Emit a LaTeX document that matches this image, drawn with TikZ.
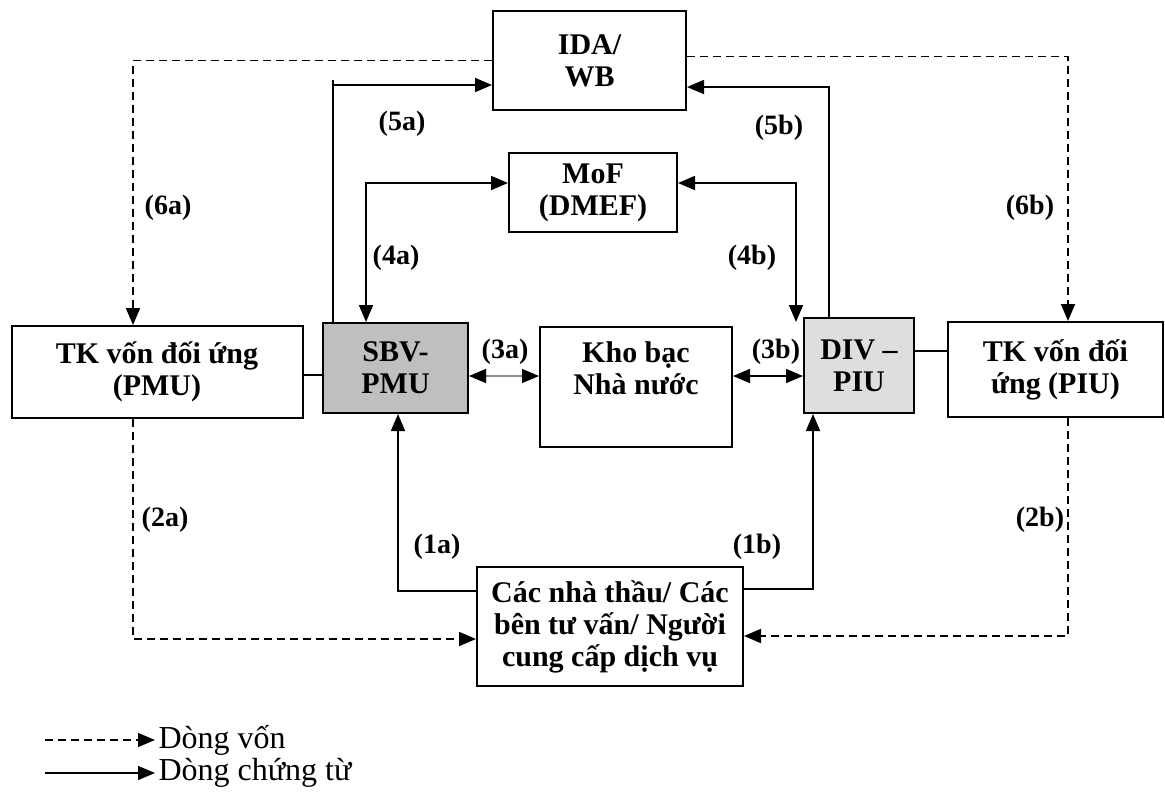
\documentclass[tikz,border=0pt]{standalone}
\usepackage{fontspec}
\setmainfont{Liberation Serif}
\usetikzlibrary{arrows.meta,calc}
\tikzset{
  box/.style={draw,line width=2pt,align=center,inner sep=2pt,
    font=\fontsize{30}{32}\selectfont\bfseries},
  lbl/.style={font=\fontsize{28}{30}\selectfont\bfseries},
  tip/.style={Triangle[length=17pt,width=14pt,color=black]},
  doc/.style={line width=1.8pt,-{Triangle[length=17pt,width=14pt]}},
  both/.style={line width=1.8pt,{Triangle[length=17pt,width=14pt,color=black]}-{Triangle[length=17pt,width=14pt,color=black]}},
  fund/.style={line width=1.8pt,dash pattern=on 8pt off 5pt,
    -{Triangle[length=17pt,width=14pt]}},
}
\begin{document}
\begin{tikzpicture}[x=1pt,y=-1pt]
  \useasboundingbox (0,0) rectangle (1165,793);
  % Boxes
  \node[box,minimum width=193pt,minimum height=99pt] (ida) at (589.5,60.5) {IDA/\\WB};
  \node[box,minimum width=168pt,minimum height=79pt] (mof) at (593,192.5) {MoF\\(DMEF)};
  \node[box,minimum width=291pt,minimum height=92pt] (tkpmu) at (157,372) {TK vốn đối ứng\\(PMU)};
  \node[box,fill=black!25,minimum width=145pt,minimum height=90pt] (sbv) at (395.5,368) {SBV-\\PMU};
  \node[box,minimum width=192pt,minimum height=120pt] (kho) at (636,387) {};
  \node[box,draw=none] (khotxt) at (636,368) {Kho bạc\\Nhà nước};
  \node[box,fill=black!13,minimum width=110pt,minimum height=95pt] (div) at (859,365.5) {DIV --\\PIU};
  \node[box,minimum width=215pt,minimum height=95pt] (tkpiu) at (1055.5,369.5) {TK vốn đối\\ứng (PIU)};
  \node[box,minimum width=266pt,minimum height=119pt] (thau) at (610,626.5) {Các nhà thầu/ Các\\bên tư vấn/ Người\\cung cấp dịch vụ};
  % Fund flows (dashed)
  \draw[fund] (ida.west) -| (tkpmu.north -| 133,0);
  \draw[fund] ($(ida.east)+(0,-4)$) -| (tkpiu.north -| 1068,0);
  \draw[fund] (tkpmu.south -| 133,0) |- (thau.west |- 0,639);
  \draw[fund] (tkpiu.south -| 1068,0) |- (thau.east |- 0,636);
  % Document flows
  \draw[line width=1.8pt] (sbv.north -| 333,0) -- (333,80);
  \draw[doc] (333,85) -- ($(ida.west)+(0,24.5)$);
  \draw[doc] (div.north -| 829,0) |- ($(ida.east)+(0,26.5)$);
  \draw[both] (sbv.north -| 366,0) |- ($(mof.west)+(0,-9.5)$);
  \draw[both] ($(mof.east)+(0,-9.5)$) -| ($(div.north west)+(-7,5)$);
  \draw[both,draw=black!45,line width=1.2pt] (sbv.east |- 0,376) -- (kho.west |- 0,376);
  \draw[both] (kho.east |- 0,376) -- (div.west |- 0,376);
  \draw[line width=1.8pt] (tkpmu.east |- 0,375) -- (sbv.west |- 0,375);
  \draw[line width=1.8pt] (div.east |- 0,351) -- (tkpiu.west |- 0,351);
  \draw[doc] (thau.west |- 0,591) -| (sbv.south -| 398,0);
  \draw[doc] (thau.east |- 0,589) -| (div.south -| 813,0);
  % Labels
  \node[lbl] (l5a) at (402,124) {(5a)};
  \node[lbl] (l5b) at (779,128) {(5b)};
  \node[lbl] (l6a) at (168,208) {(6a)};
  \node[lbl] (l6b) at (1030,208) {(6b)};
  \node[lbl] (l4a) at (396,258) {(4a)};
  \node[lbl] (l4b) at (752,258) {(4b)};
  \node[lbl] (l3a) at (505,352) {(3a)};
  \node[lbl] (l3b) at (776,352) {(3b)};
  \node[lbl] (l2a) at (165,520) {(2a)};
  \node[lbl] (l2b) at (1040,520) {(2b)};
  \node[lbl] (l1a) at (437,547) {(1a)};
  \node[lbl] (l1b) at (757,547) {(1b)};
  % Legend
  \coordinate (k1) at (45,740);
  \coordinate (k2) at (45,773);
  \node[anchor=west,font=\fontsize{32}{34}\selectfont] (lvon) at (155,740) {Dòng vốn};
  \node[anchor=west,font=\fontsize{32}{34}\selectfont] (lct) at (155,773) {Dòng chứng từ};
  \draw[fund,line width=1.2pt] (k1) -- (lvon.west);
  \draw[doc,line width=1.2pt] (k2) -- (lct.west);
\end{tikzpicture}
\end{document}
